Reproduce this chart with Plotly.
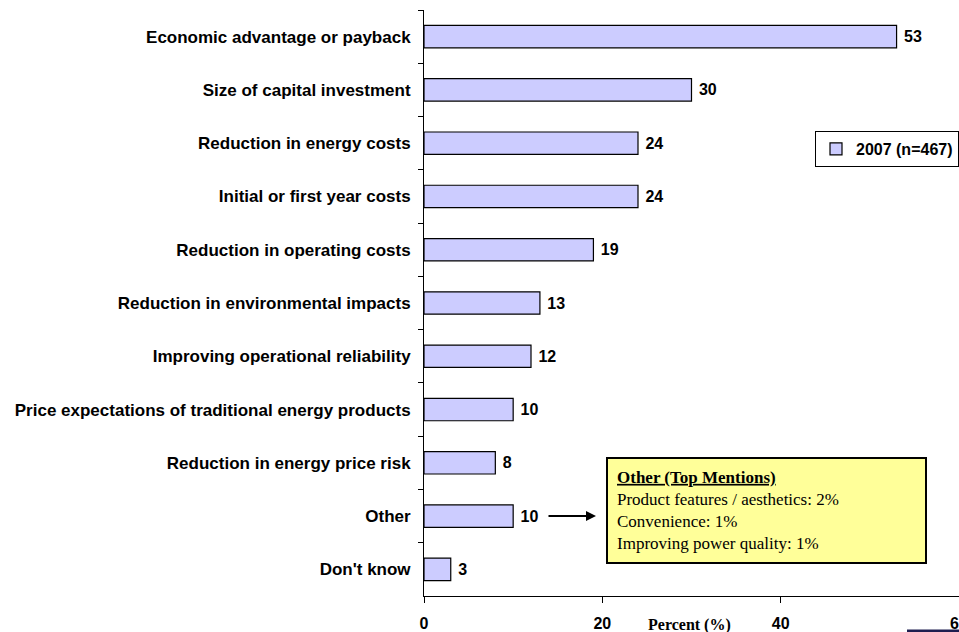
import plotly.graph_objects as go

# Reasons for purchase, share of respondents (%)
categories = [
    "Economic advantage or payback",
    "Size of capital investment",
    "Reduction in energy costs",
    "Initial or first year costs",
    "Reduction in operating costs",
    "Reduction in environmental impacts",
    "Improving operational reliability",
    "Price expectations of traditional energy products",
    "Reduction in energy price risk",
    "Other",
    "Don't know",
]
values_2007 = [53, 30, 24, 24, 19, 13, 12, 10, 8, 10, 3]
series_name = "2007 (n=467)"
x_ticks = [0, 20, 40, 60]

other_title = "Other (Top Mentions)"
other_items = [
    "Product features / aesthetics: 2%",
    "Convenience: 1%",
    "Improving power quality: 1%",
]

W, H = 959, 632
M_L, M_R, M_T, M_B = 424, 0, 10, 36
plot_w = W - M_L - M_R
plot_h = H - M_T - M_B


def px_x(px):
    return (px - M_L) / plot_w


def px_y(py):
    return (H - M_B - py) / plot_h


SANS = "Liberation Sans, Arial, sans-serif"
SERIF = "Liberation Serif, Times New Roman, serif"

fig = go.Figure()
fig.add_trace(go.Bar(
    x=values_2007,
    y=categories,
    orientation="h",
    name=series_name,
    width=0.42,
    marker=dict(color="#CCCCFF", line=dict(color="#000000", width=1.2)),
    text=["\u00a0" + str(v) for v in values_2007],
    textposition="outside",
    textfont=dict(family=SANS, size=16, color="#000000", weight="bold"),
    cliponaxis=False,
    showlegend=True,
))

fig.update_layout(
    width=W,
    height=H,
    margin=dict(l=M_L, r=M_R, t=M_T, b=M_B, pad=0, autoexpand=False),
    paper_bgcolor="#FFFFFF",
    plot_bgcolor="#FFFFFF",
    font=dict(family=SANS, size=16, color="#000000"),
    showlegend=True,
    legend=dict(
        x=1.0, xanchor="right",
        y=px_y(131), yanchor="top",
        bgcolor="#FFFFFF",
        bordercolor="#000000",
        borderwidth=1,
        font=dict(family=SANS, size=16, color="#000000", weight="bold"),
        itemwidth=30,
        tracegroupgap=0,
    ),
    xaxis=dict(
        range=[0, 60],
        tickvals=x_ticks,
        ticktext=[str(t) for t in x_ticks],
        ticks="outside",
        ticklen=6,
        tickcolor="#000000",
        showline=True,
        linecolor="#000000",
        linewidth=1,
        showgrid=False,
        zeroline=False,
        automargin=False,
        ticklabelstandoff=7,
        ticklabeloverflow="allow",
        tickfont=dict(family=SANS, size=16, color="#000000", weight="bold"),
    ),
    yaxis=dict(
        autorange="reversed",
        ticks="outside",
        tickson="boundaries",
        ticklen=5,
        tickcolor="#000000",
        showline=True,
        linecolor="#000000",
        linewidth=1,
        showgrid=False,
        zeroline=False,
        automargin=False,
        ticklabelstandoff=9,
        tickfont=dict(family=SANS, size=17, color="#000000", weight="bold"),
    ),
)

# Axis title sitting under the tick labels
fig.add_annotation(
    text="<b>Percent (%)</b>",
    xref="paper", yref="paper",
    x=px_x(689), y=px_y(614),
    xanchor="center", yanchor="top",
    showarrow=False,
    font=dict(family=SERIF, size=16, color="#000000"),
)

# Call-out box listing the top "Other" mentions
fig.add_annotation(
    text="<b><u>" + other_title + "</u></b><br>" + "<br>".join(other_items),
    xref="paper", yref="paper",
    x=px_x(766.5), y=px_y(510.5),
    xanchor="center", yanchor="middle",
    showarrow=False,
    align="left",
    width=299,
    height=85,
    bgcolor="#FFFF99",
    bordercolor="#000000",
    borderwidth=2,
    borderpad=9,
    font=dict(family=SERIF, size=17, color="#000000"),
)

# Arrow from the "Other" bar label to the call-out box
fig.add_annotation(
    x=px_x(596) * 60, y="Other",
    xref="x", yref="y",
    ax=-49, ay=0,
    axref="pixel", ayref="pixel",
    text="",
    showarrow=True,
    arrowhead=2,
    arrowsize=1,
    arrowwidth=2,
    arrowcolor="#000000",
)

# Dark rule at the lower right edge of the slide
fig.add_shape(
    type="line",
    xref="paper", yref="paper",
    x0=px_x(907), x1=1.0,
    y0=px_y(631), y1=px_y(631),
    line=dict(color="#1E1E50", width=3),
)

fig.write_html("out.html")
